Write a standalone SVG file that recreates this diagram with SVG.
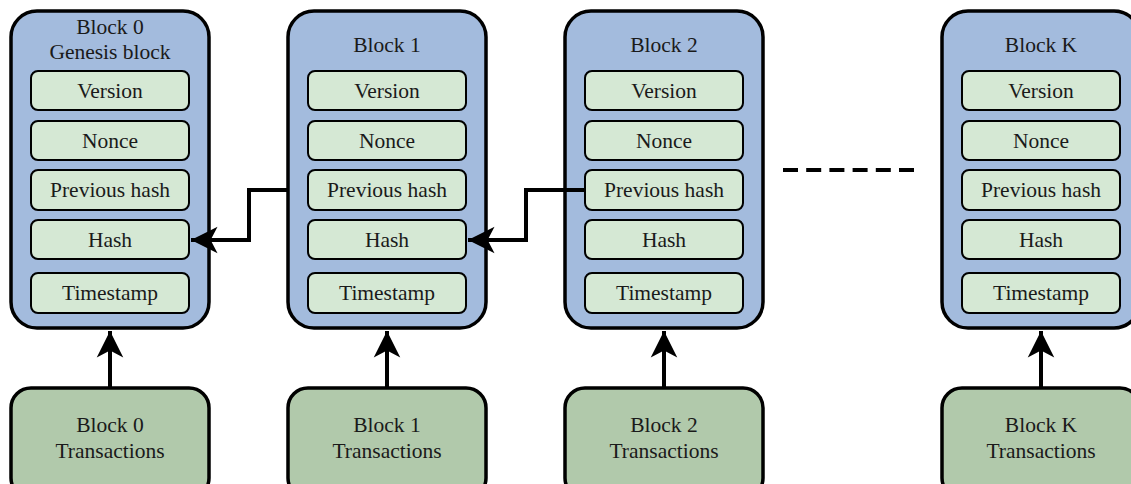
<svg xmlns="http://www.w3.org/2000/svg" width="1131" height="484" viewBox="0 0 1131 484">
<defs>
<style>
.blk{fill:#a3bbdd;stroke:#000;stroke-width:3.5}
.fld{fill:#d5e8d4;stroke:#000;stroke-width:2}
.tx{fill:#b1c9ab;stroke:#000;stroke-width:3.5}
text{font-family:"Liberation Serif","Times New Roman",serif;font-size:21.5px;fill:#1a1a1a;text-anchor:middle}
.con{fill:none;stroke:#000;stroke-width:4}
</style>
<marker id="ah" markerUnits="userSpaceOnUse" markerWidth="30" markerHeight="30" viewBox="-24 -13 26 26" refX="0" refY="0" orient="auto">
<path d="M0,0 L-23,-11.5 L-17,0 L-23,11.5 Z" fill="#000"/>
</marker>
</defs>
<rect width="1131" height="484" fill="#fff"/>
<g id="block0">
<rect class="blk" x="11" y="11" width="198" height="317" rx="26"/>
<text x="110" y="34">Block 0</text>
<text x="110" y="59">Genesis block</text>
<rect class="fld" x="31" y="71" width="158" height="39" rx="7"/><text x="110" y="98">Version</text>
<rect class="fld" x="31" y="121" width="158" height="39" rx="7"/><text x="110" y="148">Nonce</text>
<rect class="fld" x="31" y="170" width="158" height="40" rx="7"/><text x="110" y="197">Previous hash</text>
<rect class="fld" x="31" y="220" width="158" height="39" rx="7"/><text x="110" y="247">Hash</text>
<rect class="fld" x="31" y="273" width="158" height="40" rx="7"/><text x="110" y="300">Timestamp</text>
</g>
<g id="block1">
<rect class="blk" x="288" y="11" width="198" height="317" rx="26"/>
<text x="387" y="52">Block 1</text>
<rect class="fld" x="308" y="71" width="158" height="39" rx="7"/><text x="387" y="98">Version</text>
<rect class="fld" x="308" y="121" width="158" height="39" rx="7"/><text x="387" y="148">Nonce</text>
<rect class="fld" x="308" y="170" width="158" height="40" rx="7"/><text x="387" y="197">Previous hash</text>
<rect class="fld" x="308" y="220" width="158" height="39" rx="7"/><text x="387" y="247">Hash</text>
<rect class="fld" x="308" y="273" width="158" height="40" rx="7"/><text x="387" y="300">Timestamp</text>
</g>
<g id="block2">
<rect class="blk" x="565" y="11" width="198" height="317" rx="26"/>
<text x="664" y="52">Block 2</text>
<rect class="fld" x="585" y="71" width="158" height="39" rx="7"/><text x="664" y="98">Version</text>
<rect class="fld" x="585" y="121" width="158" height="39" rx="7"/><text x="664" y="148">Nonce</text>
<rect class="fld" x="585" y="170" width="158" height="40" rx="7"/><text x="664" y="197">Previous hash</text>
<rect class="fld" x="585" y="220" width="158" height="39" rx="7"/><text x="664" y="247">Hash</text>
<rect class="fld" x="585" y="273" width="158" height="40" rx="7"/><text x="664" y="300">Timestamp</text>
</g>
<g id="blockK">
<rect class="blk" x="942" y="11" width="198" height="317" rx="26"/>
<text x="1041" y="52">Block K</text>
<rect class="fld" x="962" y="71" width="158" height="39" rx="7"/><text x="1041" y="98">Version</text>
<rect class="fld" x="962" y="121" width="158" height="39" rx="7"/><text x="1041" y="148">Nonce</text>
<rect class="fld" x="962" y="170" width="158" height="40" rx="7"/><text x="1041" y="197">Previous hash</text>
<rect class="fld" x="962" y="220" width="158" height="39" rx="7"/><text x="1041" y="247">Hash</text>
<rect class="fld" x="962" y="273" width="158" height="40" rx="7"/><text x="1041" y="300">Timestamp</text>
</g>
<g id="tx0"><rect class="tx" x="11" y="388" width="198" height="110" rx="20"/><text x="110" y="432">Block 0</text><text x="110" y="458">Transactions</text></g>
<g id="tx1"><rect class="tx" x="288" y="388" width="198" height="110" rx="20"/><text x="387" y="432">Block 1</text><text x="387" y="458">Transactions</text></g>
<g id="tx2"><rect class="tx" x="565" y="388" width="198" height="110" rx="20"/><text x="664" y="432">Block 2</text><text x="664" y="458">Transactions</text></g>
<g id="txK"><rect class="tx" x="942" y="388" width="198" height="110" rx="20"/><text x="1041" y="432">Block K</text><text x="1041" y="458">Transactions</text></g>
<g id="connectors">
<path class="con" d="M288,190 H249 V240 H191" marker-end="url(#ah)"/>
<path class="con" d="M585,190 H526 V240 H468" marker-end="url(#ah)"/>
<path class="con" d="M110,388 V331" marker-end="url(#ah)"/>
<path class="con" d="M387,388 V331" marker-end="url(#ah)"/>
<path class="con" d="M664,388 V331" marker-end="url(#ah)"/>
<path class="con" d="M1041,388 V331" marker-end="url(#ah)"/>
<path class="con" d="M783,170 H914" stroke-dasharray="15 8.2"/>
</g>
</svg>
